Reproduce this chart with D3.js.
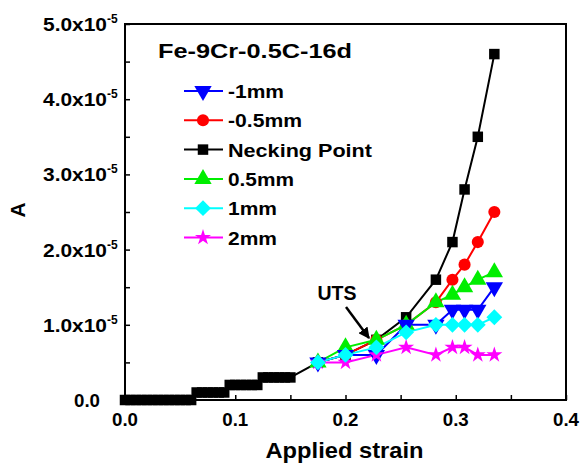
<!DOCTYPE html>
<html><head><meta charset="utf-8">
<script src="https://cdn.jsdelivr.net/npm/d3@7"></script>
<style>body{margin:0;background:#fff}svg{font-family:"Liberation Sans",Arial,sans-serif;font-weight:bold}</style>
</head><body><svg id="c" width="581" height="464"></svg>
<script>
const strainCluster = [0.175, 0.2, 0.228, 0.255, 0.282, 0.297, 0.308, 0.32, 0.335];
const neckStrainLow = [0,0.005,0.01,0.015,0.02,0.025,0.03,0.035,0.04,0.045,0.05,0.055,0.06,
  0.065,0.07,0.075,0.08,0.085,0.09,
  0.095,0.1,0.105,0.11,0.115,0.12,
  0.125,0.13,0.135,0.14,0.145,0.15];
const neckValLow = [0,0,0,0,0,0,0,0,0,0,0,0,0,
  0.1,0.1,0.1,0.1,0.1,0.1,
  0.2,0.2,0.2,0.2,0.2,0.2,
  0.3,0.3,0.3,0.3,0.3,0.3];
const neckVal = [0.5, 0.6, 0.8, 1.1, 1.6, 2.1, 2.8, 3.5, 4.6];
const m1Val = [0.5, 0.6, 0.6, 1.0, 1.0, 1.2, 1.2, 1.2, 1.5];
const m05Val = [0.5, 0.6, 0.8, 1.0, 1.3, 1.6, 1.8, 2.1, 2.5];
const p05Val = [0.5, 0.7, 0.8, 1.0, 1.3, 1.4, 1.5, 1.6, 1.7];
const p1Val = [0.5, 0.6, 0.7, 0.9, 1.0, 1.0, 1.0, 1.0, 1.1];
const p2Val = [0.5, 0.5, 0.6, 0.7, 0.6, 0.7, 0.7, 0.6, 0.6];
const seriesNames = ["-1mm", "-0.5mm", "Necking Point", "0.5mm", "1mm", "2mm"];
const seriesColors = ["#0000ff", "#ff0000", "#000000", "#00ee00", "#00ffff", "#ff00ff"];
const xTicks = [0, 0.1, 0.2, 0.3, 0.4];
const yTicks = [0, 1, 2, 3, 4, 5];
const yTickLabels = ["0.0", "1.0x10", "2.0x10", "3.0x10", "4.0x10", "5.0x10"];
const title = "Fe-9Cr-0.5C-16d";

const svg = d3.select("#c");
const L = 125, R = 566, T = 24, B = 400;
const x = d3.scaleLinear().domain([0, 0.4]).range([L, R]);
const y = d3.scaleLinear().domain([0, 5]).range([B, T]);

const series = [
  {name: seriesNames[0], color: seriesColors[0], sym: d3.symbolTriangle, rot: 180, size: 130,
   pts: strainCluster.map((s,i)=>[s, m1Val[i]])},
  {name: seriesNames[1], color: seriesColors[1], sym: d3.symbolCircle, rot: 0, size: 115,
   pts: strainCluster.map((s,i)=>[s, m05Val[i]])},
  {name: seriesNames[2], color: seriesColors[2], sym: d3.symbolSquare, rot: 0, size: 110,
   pts: neckStrainLow.map((s,i)=>[s, neckValLow[i]]).concat(strainCluster.map((s,i)=>[s, neckVal[i]]))},
  {name: seriesNames[3], color: seriesColors[3], sym: d3.symbolTriangle, rot: 0, size: 130,
   pts: strainCluster.map((s,i)=>[s, p05Val[i]])},
  {name: seriesNames[4], color: seriesColors[4], sym: d3.symbolDiamond2, rot: 0, size: 160,
   pts: strainCluster.map((s,i)=>[s, p1Val[i]])},
  {name: seriesNames[5], color: seriesColors[5], sym: d3.symbolStar, rot: 0, size: 80,
   pts: strainCluster.map((s,i)=>[s, p2Val[i]])}
];
const legendTextLen = [56, 74, 144, 66, 49, 49];

// axes ticks (inward)
const xAxis = d3.axisBottom(x).tickValues(d3.range(0, 0.4001, 0.05)).tickSize(-5).tickFormat("");
svg.append("g").attr("transform", `translate(0,${B})`).call(xAxis)
  .call(g=>{g.select(".domain").remove(); g.selectAll("line").attr("stroke","#000").attr("stroke-width",1.5);});
const yAxis = d3.axisLeft(y).tickValues(d3.range(0, 5.001, 0.5)).tickSize(-5).tickFormat("");
svg.append("g").attr("transform", `translate(${L},0)`).call(yAxis)
  .call(g=>{g.select(".domain").remove(); g.selectAll("line").attr("stroke","#000").attr("stroke-width",1.5);});

// frame
svg.append("rect").attr("x", L).attr("y", T).attr("width", R-L).attr("height", B-T)
  .attr("fill","none").attr("stroke","#000").attr("stroke-width",2);

// x tick labels
svg.append("g").selectAll("text").data(xTicks).join("text")
  .attr("x", d=>x(d)).attr("y", B+26).attr("text-anchor","middle").attr("font-size",18)
  .attr("textLength", 26).attr("lengthAdjust","spacingAndGlyphs")
  .text(d=>d.toFixed(1));
// y tick labels
const yl = svg.append("g").selectAll("text").data(yTicks).join("text")
  .attr("y", d=>y(d)+7).attr("font-size",18);
yl.each(function(d,i){
  const t = d3.select(this);
  if (d === 0) { t.attr("x", 100).attr("text-anchor","end").attr("textLength",26).attr("lengthAdjust","spacingAndGlyphs").text(yTickLabels[i]); }
  else {
    t.append("tspan").attr("x", 43).attr("textLength", 64).attr("lengthAdjust","spacingAndGlyphs").text(yTickLabels[i]);
    t.append("tspan").attr("x", 107).attr("dy",-8).attr("font-size",12).text("-5");
  }
});

// axis titles
svg.append("text").attr("x", (L+R)/2 - 1).attr("y", 458).attr("text-anchor","middle").attr("font-size",22)
  .attr("textLength",158).attr("lengthAdjust","spacingAndGlyphs").text("Applied strain");
svg.append("text").attr("transform", `translate(25,${210}) rotate(-90)`).attr("text-anchor","middle").attr("font-size",21).text("A");

// lines + markers
const line = d3.line().x(d=>x(d[0])).y(d=>y(d[1]));
const plotOrder = [2, 1, 3, 0, 5, 4];
plotOrder.forEach(k=>{
  const s = series[k];
  svg.append("path").datum(s.pts).attr("d", line).attr("fill","none").attr("stroke", s.color).attr("stroke-width",2);
});
plotOrder.forEach(k=>{
  const s = series[k];
  const sym = d3.symbol().type(s.sym).size(s.size);
  svg.append("g").selectAll("path").data(s.pts).join("path")
    .attr("d", sym).attr("fill", s.color)
    .attr("transform", d=>`translate(${x(d[0])},${y(d[1])}) rotate(${s.rot})`);
});

// title
svg.append("text").attr("x", 158).attr("y", 58).attr("font-size",21)
  .attr("textLength",194).attr("lengthAdjust","spacingAndGlyphs").text(title);

// legend
const lg = svg.append("g");
series.forEach((s,i)=>{
  const yy = 91 + i*29.3;
  lg.append("line").attr("x1",184).attr("x2",223).attr("y1",yy).attr("y2",yy).attr("stroke",s.color).attr("stroke-width",2);
  lg.append("path").attr("d", d3.symbol().type(s.sym).size(s.size)()).attr("fill",s.color)
    .attr("transform",`translate(203,${yy}) rotate(${s.rot})`);
  lg.append("text").attr("x", 228).attr("y", yy+7).attr("font-size",19)
    .attr("textLength", legendTextLen[i]).attr("lengthAdjust","spacingAndGlyphs").text(s.name);
});

// UTS annotation
const defs = svg.append("defs");
defs.append("marker").attr("id","ah").attr("viewBox","0 0 10 10").attr("refX",9).attr("refY",5)
  .attr("markerWidth",4.5).attr("markerHeight",4.5).attr("orient","auto")
  .append("path").attr("d","M0,0 L10,5 L0,10 z").attr("fill","#000");
svg.append("text").attr("x", 337).attr("y", 300).attr("text-anchor","middle").attr("font-size",20)
  .attr("textLength",39).attr("lengthAdjust","spacingAndGlyphs").text("UTS");
svg.append("line").attr("x1", 346).attr("y1", 307).attr("x2", 369).attr("y2", 338)
  .attr("stroke","#000").attr("stroke-width",2.5).attr("marker-end","url(#ah)");
</script></body></html>
